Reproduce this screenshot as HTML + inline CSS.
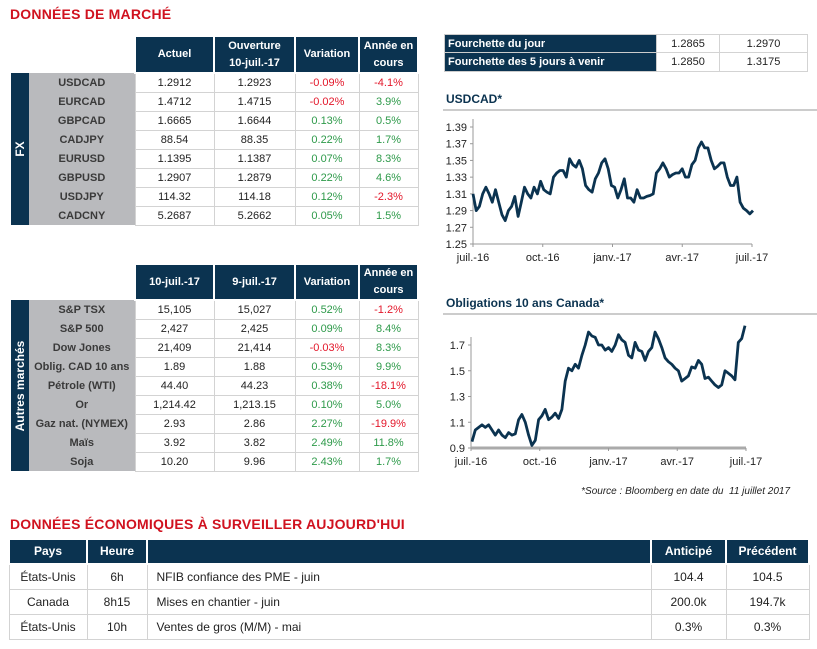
<!DOCTYPE html>
<html><head><meta charset="utf-8">
<style>
body{margin:0;width:817px;height:649px;background:#fff;font-family:"Liberation Sans",sans-serif;position:relative;overflow:hidden;color:#222}
.abs{position:absolute}
.title{color:#d0121f;font-weight:bold;font-size:14px;letter-spacing:0.2px}
table{border-collapse:collapse;table-layout:fixed;position:absolute;font-size:11px}
td,th{padding:0;text-align:center;white-space:nowrap;overflow:hidden}
th{background:#0b3350;color:#fff;font-weight:bold;border:2px solid #fff;line-height:17px}
td.v{border:1px solid #d3d3d3;background:#fff}
td.l{background:#b9babd;color:#3a3a3a;font-weight:bold;border:none}
td.side{background:#0b3350;color:#fff;font-weight:bold;border:none;position:relative}
.r{color:#e3172a}.g{color:#2e9a4a}
.rot{position:absolute;left:50%;top:50%;transform:translate(-50%,-50%) rotate(-90deg);white-space:nowrap;font-size:12px}
.ct{color:#0b3350;font-weight:bold;font-size:12px}
</style></head><body>
<div class="abs title" style="left:10px;top:6px">DONNÉES DE MARCHÉ</div>

<table style="left:11px;top:35px;width:407px">
<colgroup><col style="width:18px"><col style="width:106px"><col style="width:79px"><col style="width:81px"><col style="width:64px"><col style="width:59px"></colgroup>
<tr style="height:37px"><td colspan="2" style="border:none"></td><th>Actuel</th><th>Ouverture<br>10-juil.-17</th><th>Variation</th><th>Année en<br>cours</th></tr>
<tr style="height:19px"><td class="side" rowspan="8"><span class="rot">FX</span></td><td class="l">USDCAD</td><td class="v">1.2912</td><td class="v">1.2923</td><td class="v r">-0.09%</td><td class="v r">-4.1%</td></tr>
<tr style="height:19px"><td class="l">EURCAD</td><td class="v">1.4712</td><td class="v">1.4715</td><td class="v r">-0.02%</td><td class="v g">3.9%</td></tr>
<tr style="height:19px"><td class="l">GBPCAD</td><td class="v">1.6665</td><td class="v">1.6644</td><td class="v g">0.13%</td><td class="v g">0.5%</td></tr>
<tr style="height:19px"><td class="l">CADJPY</td><td class="v">88.54</td><td class="v">88.35</td><td class="v g">0.22%</td><td class="v g">1.7%</td></tr>
<tr style="height:19px"><td class="l">EURUSD</td><td class="v">1.1395</td><td class="v">1.1387</td><td class="v g">0.07%</td><td class="v g">8.3%</td></tr>
<tr style="height:19px"><td class="l">GBPUSD</td><td class="v">1.2907</td><td class="v">1.2879</td><td class="v g">0.22%</td><td class="v g">4.6%</td></tr>
<tr style="height:19px"><td class="l">USDJPY</td><td class="v">114.32</td><td class="v">114.18</td><td class="v g">0.12%</td><td class="v r">-2.3%</td></tr>
<tr style="height:19px"><td class="l">CADCNY</td><td class="v">5.2687</td><td class="v">5.2662</td><td class="v g">0.05%</td><td class="v g">1.5%</td></tr>
</table>

<table style="left:11px;top:263px;width:407px">
<colgroup><col style="width:18px"><col style="width:106px"><col style="width:79px"><col style="width:81px"><col style="width:64px"><col style="width:59px"></colgroup>
<tr style="height:33px"><td colspan="2" style="border:none"></td><th>10-juil.-17</th><th>9-juil.-17</th><th>Variation</th><th>Année en<br>cours</th></tr>
<tr style="height:19px"><td class="side" rowspan="9"><span class="rot">Autres marchés</span></td><td class="l">S&amp;P TSX</td><td class="v">15,105</td><td class="v">15,027</td><td class="v g">0.52%</td><td class="v r">-1.2%</td></tr>
<tr style="height:19px"><td class="l">S&amp;P 500</td><td class="v">2,427</td><td class="v">2,425</td><td class="v g">0.09%</td><td class="v g">8.4%</td></tr>
<tr style="height:19px"><td class="l">Dow Jones</td><td class="v">21,409</td><td class="v">21,414</td><td class="v r">-0.03%</td><td class="v g">8.3%</td></tr>
<tr style="height:19px"><td class="l">Oblig. CAD 10 ans</td><td class="v">1.89</td><td class="v">1.88</td><td class="v g">0.53%</td><td class="v g">9.9%</td></tr>
<tr style="height:19px"><td class="l">Pétrole (WTI)</td><td class="v">44.40</td><td class="v">44.23</td><td class="v g">0.38%</td><td class="v r">-18.1%</td></tr>
<tr style="height:19px"><td class="l">Or</td><td class="v">1,214.42</td><td class="v">1,213.15</td><td class="v g">0.10%</td><td class="v g">5.0%</td></tr>
<tr style="height:19px"><td class="l">Gaz nat. (NYMEX)</td><td class="v">2.93</td><td class="v">2.86</td><td class="v g">2.27%</td><td class="v r">-19.9%</td></tr>
<tr style="height:19px"><td class="l">Maïs</td><td class="v">3.92</td><td class="v">3.82</td><td class="v g">2.49%</td><td class="v g">11.8%</td></tr>
<tr style="height:19px"><td class="l">Soja</td><td class="v">10.20</td><td class="v">9.96</td><td class="v g">2.43%</td><td class="v g">1.7%</td></tr>
</table>

<table style="left:444px;top:34px;width:363px;border:1px solid #ccc">
<colgroup><col style="width:212px"><col style="width:63px"><col style="width:88px"></colgroup>
<tr style="height:18px"><th style="text-align:left;padding-left:3px;border:1px solid #ccc;line-height:14px;vertical-align:middle">Fourchette du jour</th><td class="v">1.2865</td><td class="v">1.2970</td></tr>
<tr style="height:19px"><th style="text-align:left;padding-left:3px;border:1px solid #ccc;line-height:14px;vertical-align:middle">Fourchette des 5 jours à venir</th><td class="v">1.2850</td><td class="v">1.3175</td></tr>
</table>

<div class="abs ct" style="left:446px;top:92px">USDCAD*</div>
<div class="abs ct" style="left:446px;top:296px">Obligations 10 ans Canada*</div>

<svg class="abs" style="left:0;top:0" width="817" height="649">
<g id="c1"></g><g id="c2"></g>
</svg>

<div class="abs" style="right:27px;top:486px;font-size:10px;font-style:italic;color:#222">*Source : Bloomberg en date du&nbsp; 11 juillet 2017</div>

<div class="abs title" style="left:10px;top:516px">DONNÉES ÉCONOMIQUES À SURVEILLER AUJOURD'HUI</div>

<table style="left:8px;top:538px;width:800px;font-size:12px;border:1px solid #ccc">
<colgroup><col style="width:78px"><col style="width:60px"><col style="width:504px"><col style="width:75px"><col style="width:83px"></colgroup>
<tr style="height:25px"><th>Pays</th><th>Heure</th><th></th><th>Anticipé</th><th>Précédent</th></tr>
<tr style="height:25px"><td class="v">États-Unis</td><td class="v">6h</td><td class="v" style="text-align:left;padding-left:9px">NFIB confiance des PME - juin</td><td class="v">104.4</td><td class="v">104.5</td></tr>
<tr style="height:25px"><td class="v">Canada</td><td class="v">8h15</td><td class="v" style="text-align:left;padding-left:9px">Mises en chantier - juin</td><td class="v">200.0k</td><td class="v">194.7k</td></tr>
<tr style="height:25px"><td class="v">États-Unis</td><td class="v">10h</td><td class="v" style="text-align:left;padding-left:9px">Ventes de gros (M/M) - mai</td><td class="v">0.3%</td><td class="v">0.3%</td></tr>
</table>

<script>
const usdcadValues=[1.310,1.290,1.295,1.310,1.318,1.310,1.300,1.315,1.300,1.285,1.278,1.290,1.295,1.307,1.283,1.300,1.318,1.310,1.305,1.318,1.310,1.325,1.315,1.312,1.310,1.330,1.335,1.338,1.338,1.330,1.352,1.345,1.342,1.350,1.340,1.320,1.315,1.312,1.328,1.335,1.347,1.352,1.340,1.320,1.318,1.305,1.315,1.328,1.305,1.305,1.300,1.315,1.305,1.305,1.307,1.308,1.310,1.335,1.340,1.347,1.340,1.330,1.333,1.335,1.335,1.340,1.330,1.330,1.345,1.350,1.365,1.372,1.365,1.365,1.350,1.340,1.343,1.347,1.347,1.330,1.320,1.320,1.330,1.300,1.293,1.290,1.286,1.290];
const bondValues=[0.95,1.04,1.06,1.08,1.06,1.08,1.04,1.00,1.04,1.00,0.98,1.02,1.00,1.01,1.12,1.16,1.10,1.00,0.92,0.96,1.12,1.15,1.20,1.12,1.14,1.17,1.13,1.20,1.42,1.52,1.50,1.55,1.52,1.62,1.70,1.80,1.77,1.76,1.70,1.70,1.66,1.68,1.65,1.70,1.78,1.74,1.72,1.62,1.60,1.72,1.66,1.65,1.58,1.65,1.68,1.80,1.75,1.68,1.60,1.57,1.55,1.52,1.50,1.42,1.44,1.46,1.53,1.52,1.58,1.55,1.44,1.45,1.42,1.39,1.37,1.39,1.50,1.48,1.46,1.43,1.72,1.75,1.85];
const usdcadTicks=[1.25,1.27,1.29,1.31,1.33,1.35,1.37,1.39];
const bondTicks=[0.9,1.1,1.3,1.5,1.7];
const monthLabels=['juil.-16','oct.-16','janv.-17','avr.-17','juil.-17'];
const NS='http://www.w3.org/2000/svg';
function mk(g,t,a){const e=document.createElementNS(NS,t);for(const k in a)e.setAttribute(k,a[k]);g.appendChild(e);return e;}
function chart(gid,vals,ticks,x0,x1,vmin,vmax,y0,y1,dataX0,dataX1,axisX,fmt,nm,ruleY){
  const g=document.getElementById(gid);
  const ys=v=>y0+(v-vmin)/(vmax-vmin)*(y1-y0);
  const xs=i=>dataX0+i/(vals.length-1)*(dataX1-dataX0);
  const lx=i=>x0+i/(monthLabels.length-1)*(x1-x0);
  const ln=mk(g,'line',{x1:443,x2:817,y1:ruleY,y2:ruleY,stroke:'#bbb','stroke-width':1.5});
  
  
  const ax=mk(g,'line',{x1:axisX,x2:axisX,y1:ys(vmax)-8,y2:y0,stroke:'#999','stroke-width':1});
  
  
  const bx=mk(g,'line',{x1:axisX,x2:x1,y1:y0,y2:y0,stroke:gid==='c2'?'#aaa':'#999','stroke-width':gid==='c2'?3:1});
  
  
  ticks.forEach(t=>{
    mk(g,'line',{x1:axisX-3,x2:axisX,y1:ys(t),y2:ys(t),stroke:'#999'});
    const tx=mk(g,'text',{x:axisX-6,y:ys(t)+4,'text-anchor':'end','font-size':11,fill:'#222','font-family':'Liberation Sans'});
    tx.textContent=fmt(t);
    
    
  });
  monthLabels.forEach((m,i)=>{
    mk(g,'line',{x1:lx(i),x2:lx(i),y1:y0,y2:y0+3,stroke:'#999'});
    const tx=mk(g,'text',{x:lx(i),y:y0+17,'text-anchor':'middle','font-size':11,fill:'#222','font-family':'Liberation Sans'});
    tx.textContent=m;
    
    
  });
  const p=vals.map((v,i)=>(i?'L':'M')+xs(i).toFixed(1)+','+ys(v).toFixed(1)).join('');
  const path=mk(g,'path',{d:p,fill:'none',stroke:'#0b3350','stroke-width':2.8,'stroke-linejoin':'round'});
  
  
}
chart('c1',usdcadValues,usdcadTicks,473,752,1.25,1.39,244,127,473,753,473,t=>t.toFixed(2),'usdcad',110);
chart('c2',bondValues,bondTicks,471,746,0.9,1.7,448,345,472,745,471,t=>t.toFixed(1),'bond',314);
</script>
</body></html>
